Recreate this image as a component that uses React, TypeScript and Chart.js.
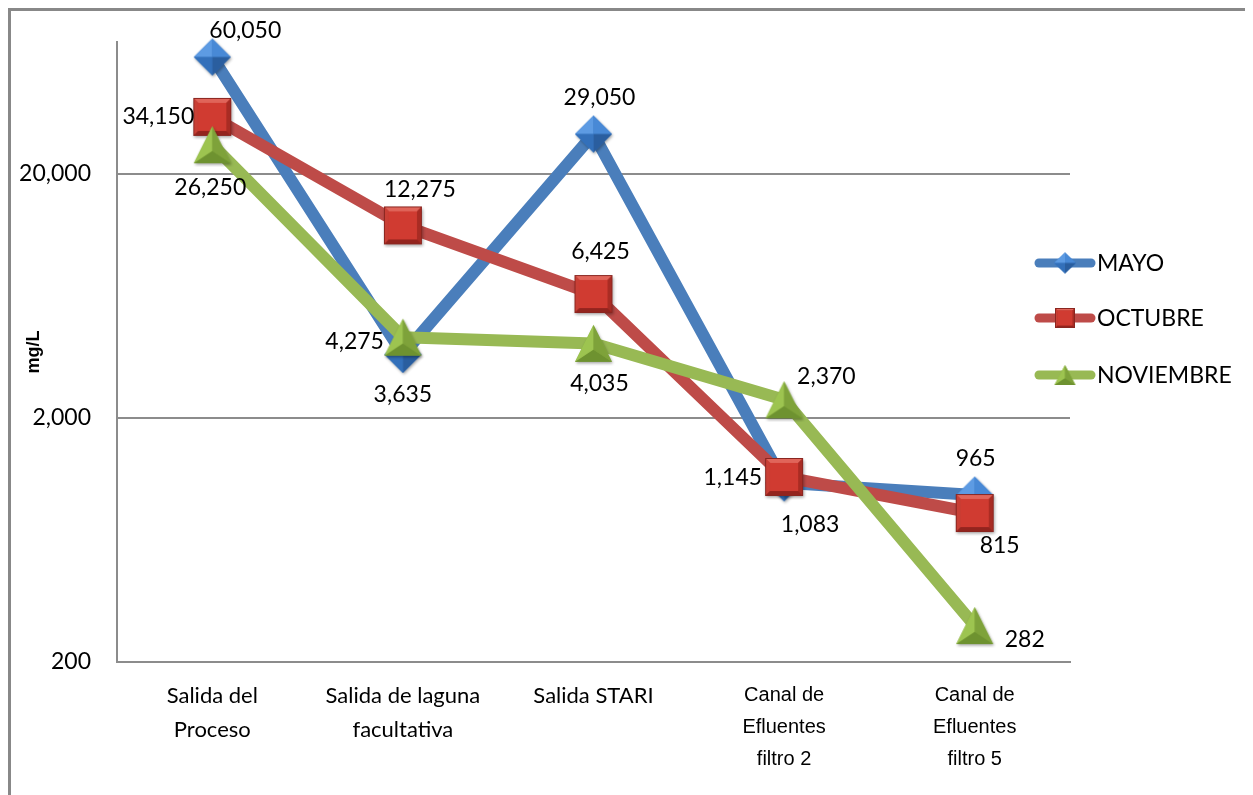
import React, { useEffect, useRef } from 'react';
import { Chart, registerables } from 'chart.js';

Chart.register(...registerables);

// ---------- data ----------
const categories: (string | string[])[] = [
  ['Salida del', 'Proceso'],
  ['Salida de laguna', 'facultativa'],
  'Salida STARI',
  ['Canal de', 'Efluentes', 'filtro 2'],
  ['Canal de', 'Efluentes', 'filtro 5'],
];
const seriesNames = ['MAYO', 'OCTUBRE', 'NOVIEMBRE'];
const mayo = [60050, 3635, 29050, 1083, 965];
const octubre = [34150, 12275, 6425, 1145, 815];
const noviembre = [26250, 4275, 4035, 2370, 282];
const yTickValues = [200, 2000, 20000];
const yMin = 200;
const yMax = 69200;
const yTitle = 'mg/L';

// ---------- styles ----------
const lineColors = ['#4A7EBB', '#BE4B48', '#98B954'];
const LABEL_FONT = '23px Lato';
// label placement relative to each point: [dx, dy, align]
const labelPlacement: [number, number, CanvasTextAlign][][] = [
  [[-3, -26, 'left'], [0, 40, 'center'], [6, -36, 'center'], [26, 42, 'center'], [1, -37, 'center']],
  [[-18, 0, 'right'], [17, -36, 'center'], [7, -42, 'center'], [-22, 1, 'right'], [25, 33, 'center']],
  [[-2, 43, 'center'], [-19, 4, 'right'], [6, 40, 'center'], [13, -23, 'left'], [30, 14, 'left']],
];

function poly(ctx: CanvasRenderingContext2D, pts: number[][], fill: string) {
  ctx.beginPath();
  ctx.moveTo(pts[0][0], pts[0][1]);
  for (let i = 1; i < pts.length; i++) ctx.lineTo(pts[i][0], pts[i][1]);
  ctx.closePath();
  ctx.fillStyle = fill;
  ctx.fill();
}

function makeMarker(shape: string, w: number, h: number, shadow = true): HTMLCanvasElement {
  const pad = 4;
  const c = document.createElement('canvas');
  c.width = Math.round(w + pad * 2);
  c.height = Math.round(h + pad * 2);
  const ctx = c.getContext('2d')!;
  const cx = c.width / 2;
  const cy = c.height / 2;
  const setShadow = (on: boolean) => {
    if (on && shadow) {
      ctx.shadowColor = 'rgba(0,0,0,0.35)';
      ctx.shadowBlur = 3;
      ctx.shadowOffsetX = 1;
      ctx.shadowOffsetY = 1.5;
    } else {
      ctx.shadowColor = 'transparent';
      ctx.shadowBlur = 0;
      ctx.shadowOffsetX = 0;
      ctx.shadowOffsetY = 0;
    }
  };
  if (shape === 'diamond') {
    const T = [cx, cy - h / 2], R = [cx + w / 2, cy], B = [cx, cy + h / 2], L = [cx - w / 2, cy], C = [cx, cy];
    setShadow(true);
    poly(ctx, [T, R, B, L], '#3C7BC6');
    setShadow(false);
    poly(ctx, [T, L, C], '#5D9BE3');
    poly(ctx, [T, R, C], '#4889D6');
    poly(ctx, [L, B, C], '#3370BA');
    poly(ctx, [R, B, C], '#2A5E9F');
  } else if (shape === 'square') {
    const x0 = cx - w / 2, y0 = cy - h / 2, x1 = cx + w / 2, y1 = cy + h / 2;
    const b = Math.max(2, w * 0.13);
    const ix0 = x0 + b, iy0 = y0 + b, ix1 = x1 - b, iy1 = y1 - b;
    setShadow(true);
    poly(ctx, [[x0, y0], [x1, y0], [x1, y1], [x0, y1]], '#B8322A');
    setShadow(false);
    poly(ctx, [[x0, y0], [x1, y0], [ix1, iy0], [ix0, iy0]], '#E0655A');
    poly(ctx, [[x0, y0], [ix0, iy0], [ix0, iy1], [x0, y1]], '#C93F35');
    poly(ctx, [[x1, y0], [x1, y1], [ix1, iy1], [ix1, iy0]], '#A82C24');
    poly(ctx, [[x0, y1], [ix0, iy1], [ix1, iy1], [x1, y1]], '#93241E');
    poly(ctx, [[ix0, iy0], [ix1, iy0], [ix1, iy1], [ix0, iy1]], '#D03B31');
    ctx.strokeStyle = '#8A2620';
    ctx.lineWidth = 1;
    ctx.strokeRect(x0 + 0.5, y0 + 0.5, w - 1, h - 1);
  } else {
    const T = [cx, cy - h / 2], BL = [cx - w / 2, cy + h / 2], BR = [cx + w / 2, cy + h / 2];
    const C = [cx, cy - h / 2 + (h * 2) / 3];
    setShadow(true);
    poly(ctx, [T, BR, BL], '#8AB240');
    setShadow(false);
    poly(ctx, [T, BL, C], '#9DC450');
    poly(ctx, [T, BR, C], '#7EA23A');
    poly(ctx, [BL, BR, C], '#6E9230');
  }
  return c;
}

export default function App() {
  const ref = useRef<HTMLCanvasElement | null>(null);

  useEffect(() => {
    document.body.style.overflow = 'hidden';
    const canvas = ref.current!;
    const markers = [makeMarker('diamond', 37, 37), makeMarker('square', 38, 38), makeMarker('triangle', 37, 37)];
    const legendMarkers = [makeMarker('diamond', 22, 21, false), makeMarker('square', 20, 20, false), makeMarker('triangle', 21, 20, false)];
    const series = [mayo, octubre, noviembre];

    const labelsPlugin = {
      id: 'pointLabels',
      afterDatasetsDraw(chart: any) {
        const ctx = chart.ctx as CanvasRenderingContext2D;
        ctx.save();
        ctx.font = LABEL_FONT;
        ctx.fillStyle = '#000';
        ctx.textBaseline = 'middle';
        series.forEach((vals, si) => {
          const meta = chart.getDatasetMeta(si);
          vals.forEach((v, i) => {
            const el = meta.data[i];
            const [dx, dy, al] = labelPlacement[si][i];
            ctx.textAlign = al;
            ctx.fillText(v.toLocaleString('en-US'), el.x + dx, el.y + dy);
          });
        });
        ctx.restore();
      },
    };

    const legendPlugin = {
      id: 'customLegend',
      afterDraw(chart: any) {
        const ctx = chart.ctx as CanvasRenderingContext2D;
        const ys = [252, 307, 364];
        const x0 = 1024, x1 = 1084;
        ctx.save();
        seriesNames.forEach((name, i) => {
          const y = ys[i];
          ctx.beginPath();
          ctx.strokeStyle = lineColors[i];
          ctx.lineWidth = 9;
          ctx.lineCap = 'round';
          ctx.moveTo(x0 + 4, y);
          ctx.lineTo(x1 - 4, y);
          ctx.stroke();
          const m = legendMarkers[i];
          ctx.drawImage(m, (x0 + x1) / 2 - m.width / 2, y - m.height / 2);
          ctx.font = LABEL_FONT;
          ctx.fillStyle = '#000';
          ctx.textAlign = 'left';
          ctx.textBaseline = 'middle';
          ctx.fillText(name, x1 + 2, y + 1);
        });
        ctx.restore();
      },
    };

    const chart = new Chart(canvas, {
      type: 'line',
      data: {
        labels: categories as any,
        datasets: series.map((vals, i) => ({
          label: seriesNames[i],
          data: vals,
          borderColor: lineColors[i],
          backgroundColor: lineColors[i],
          borderWidth: 12,
          borderCapStyle: 'round',
          borderJoinStyle: 'round',
          tension: 0,
          pointStyle: markers[i] as any,
          pointRadius: 12,
          clip: false as any,
          order: 3 - i,
        })),
      },
      options: {
        animation: false,
        responsive: false,
        events: [],
        layout: { padding: { top: 31, right: 183, bottom: 0, left: 0 } },
        plugins: { legend: { display: false }, tooltip: { enabled: false } },
        scales: {
          x: {
            type: 'category',
            offset: true,
            grid: { display: false, drawTicks: false },
            border: { display: true, color: '#8C8C8C', width: 2 },
            ticks: {
              autoSkip: false,
              maxRotation: 0,
              padding: 17,
              color: '#000',
              font: ((c: any) =>
                c.index >= 3
                  ? { family: 'Liberation Sans', size: 20, lineHeight: 1.6 }
                  : { family: 'Lato', size: 22, lineHeight: 34 / 22 }) as any,
            },
            afterFit(scale: any) {
              scale.height = 133;
              scale.paddingLeft = 0;
              scale.paddingRight = 0;
            },
          },
          y: {
            type: 'logarithmic',
            min: yMin,
            max: yMax,
            grid: { color: '#8C8C8C', lineWidth: 2, drawTicks: false },
            border: { display: true, color: '#8C8C8C', width: 2 },
            title: {
              display: true,
              text: yTitle,
              color: '#000',
              font: { family: 'Liberation Sans', size: 18, weight: 'bold' },
              padding: { top: 12, bottom: 0 },
            },
            ticks: {
              padding: 26,
              color: '#000',
              font: { family: 'Lato', size: 23 },
              callback: (v: any) => Number(v).toLocaleString('en-US'),
            },
            afterBuildTicks(scale: any) {
              scale.ticks = yTickValues.map((v) => ({ value: v }));
            },
            afterFit(scale: any) {
              scale.width = 106;
              scale.paddingTop = 0;
              scale.paddingBottom = 0;
            },
          },
        },
      },
      plugins: [labelsPlugin, legendPlugin],
    });
    return () => chart.destroy();
  }, []);

  return (
    <div style={{ borderLeft: '3px solid #888', borderTop: '3px solid #888', width: 1242, height: 784 }}>
      <canvas ref={ref} width={1242} height={784} style={{ display: 'block' }} />
    </div>
  );
}
